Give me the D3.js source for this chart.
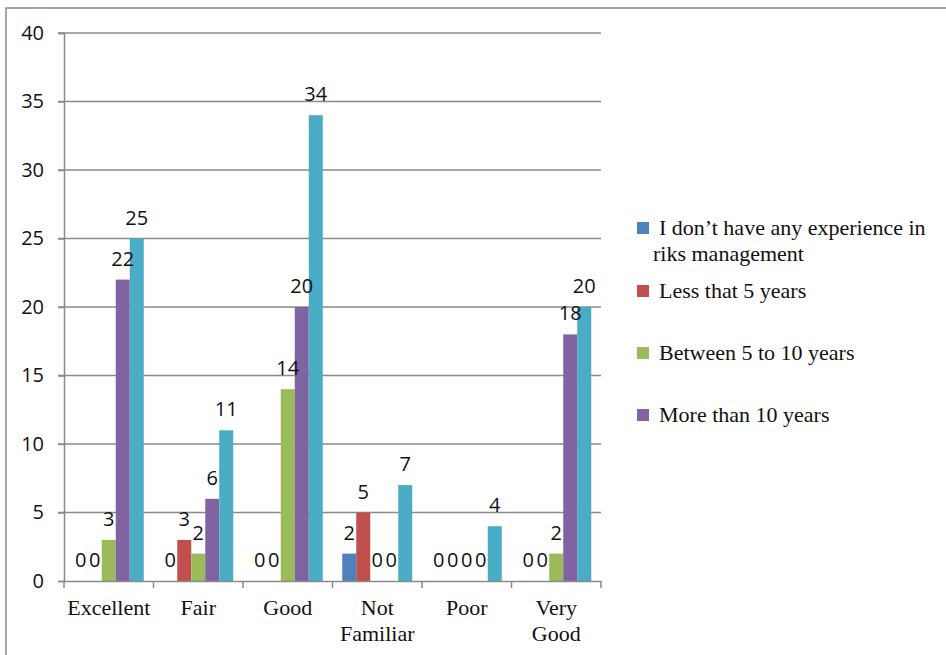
<!DOCTYPE html>
<html>
<head>
<meta charset="utf-8">
<script src="https://cdn.jsdelivr.net/npm/d3@7"></script>
<style>
  html, body { margin: 0; padding: 0; background: #fff; }
  svg { display: block; }
</style>
</head>
<body>
<svg id="chart" width="946" height="655"></svg>
<script>
// Ratings and experience groups
const categories = ["Excellent", "Fair", "Good", "Not Familiar", "Poor", "Very Good"];
const categoryLines = [["Excellent"], ["Fair"], ["Good"], ["Not", "Familiar"], ["Poor"], ["Very", "Good"]];
const seriesNames = [
  "I don\u2019t have any experience in riks management",
  "Less that 5 years",
  "Between 5 to 10 years",
  "More than 10 years",
  "Series 5"
];
const noExperience   = [0, 0, 0, 2, 0, 0];
const lessThan5      = [0, 3, 0, 5, 0, 0];
const between5and10  = [3, 2, 14, 0, 0, 2];
const moreThan10     = [22, 6, 20, 0, 0, 18];
const series5        = [25, 11, 34, 7, 4, 20];
const seriesValues = [noExperience, lessThan5, between5and10, moreThan10, series5];
const yTicks = [0, 5, 10, 15, 20, 25, 30, 35, 40];
const colors = ["#4F81BD", "#C0504D", "#9BBB59", "#8064A2", "#4BACC6"];

const sansFont = "'Open Sans', 'DejaVu Sans', sans-serif";
const serifFont = "'Liberation Serif', 'Times New Roman', serif";

const svg = d3.select("#chart");
const plot = { left: 64, right: 601, top: 33, bottom: 581 };

// Outer frame (top and left edges)
svg.append("path")
  .attr("d", "M6,655 V8 H946")
  .attr("fill", "none")
  .attr("stroke", "#8a8a8a")
  .attr("stroke-width", 1.5);

const x0 = d3.scaleBand().domain(categories).range([plot.left, plot.right]).paddingInner(0).paddingOuter(0);
const groupW = 70;
const x1 = d3.scaleBand().domain(d3.range(seriesNames.length)).range([0, groupW]).padding(0);
const y = d3.scaleLinear().domain([0, 40]).range([plot.bottom, plot.top]);

// Horizontal gridlines with outward ticks
svg.append("g").selectAll("line").data(yTicks.filter(d => d > 0)).join("line")
  .attr("x1", plot.left - 6).attr("x2", plot.right)
  .attr("y1", d => y(d)).attr("y2", d => y(d))
  .attr("stroke", "#8a8a8a").attr("stroke-width", 1.5);

// Y axis
const yAxis = svg.append("g")
  .attr("transform", `translate(${plot.left},0)`)
  .call(d3.axisLeft(y).tickValues(yTicks).tickSize(6).tickPadding(14).tickFormat(d3.format("d")));
yAxis.select(".domain").attr("stroke", "#8a8a8a").attr("stroke-width", 1.5);
yAxis.selectAll(".tick line").attr("stroke", "#8a8a8a").attr("stroke-width", 1.5);
yAxis.selectAll(".tick text")
  .attr("font-family", sansFont)
  .attr("font-size", 20).attr("fill", "#111");

// Bars
const groups = svg.append("g").selectAll("g").data(categories).join("g")
  .attr("transform", d => `translate(${x0(d) + (x0.bandwidth() - groupW) / 2},0)`);

groups.selectAll("rect")
  .data((c, i) => seriesValues.map((vals, s) => ({ s, v: vals[i] })))
  .join("rect")
  .attr("x", d => x1(d.s))
  .attr("width", x1.bandwidth())
  .attr("y", d => y(d.v))
  .attr("height", d => y(0) - y(d.v))
  .attr("fill", d => colors[d.s]);

// Value labels
groups.selectAll("text")
  .data((c, i) => seriesValues.map((vals, s) => ({ s, v: vals[i] })))
  .join("text")
  .attr("x", d => x1(d.s) + x1.bandwidth() / 2)
  .attr("y", d => y(d.v) - 14)
  .attr("text-anchor", "middle")
  .attr("font-family", sansFont)
  .attr("font-size", 20).attr("fill", "#111")
  .text(d => d.v);

// X axis
const xAxis = svg.append("g")
  .attr("transform", `translate(0,${plot.bottom})`)
  .call(d3.axisBottom(x0).tickSize(0).tickFormat(""));
xAxis.select(".domain").attr("stroke", "#8a8a8a").attr("stroke-width", 1.5);
xAxis.selectAll(".tick line").remove();
// Category boundary ticks
const bounds = categories.map(c => x0(c)).concat([plot.right]);
svg.append("g").selectAll("line").data(bounds).join("line")
  .attr("x1", d => d).attr("x2", d => d)
  .attr("y1", plot.bottom).attr("y2", plot.bottom + 7)
  .attr("stroke", "#8a8a8a").attr("stroke-width", 1.5);

// Category labels
svg.append("g").selectAll("text").data(categories).join("text")
  .attr("x", d => x0(d) + x0.bandwidth() / 2)
  .attr("y", 615)
  .attr("text-anchor", "middle")
  .attr("font-family", serifFont)
  .attr("font-size", 22).attr("fill", "#111")
  .each(function(d, i) {
    const t = d3.select(this);
    categoryLines[i].forEach((ln, k) => {
      t.append("tspan").attr("x", x0(d) + x0.bandwidth() / 2).attr("dy", k === 0 ? 0 : 26).text(ln);
    });
  });

// Legend
const legendItems = [
  { s: 0, lines: ["I don\u2019t have any experience in", "riks management"], y: 228 },
  { s: 1, lines: [seriesNames[1]], y: 291 },
  { s: 2, lines: [seriesNames[2]], y: 353 },
  { s: 3, lines: [seriesNames[3]], y: 415 }
];
const legend = svg.append("g");
legendItems.forEach(it => {
  legend.append("rect")
    .attr("x", 637).attr("y", it.y - 6).attr("width", 12).attr("height", 12)
    .attr("fill", colors[it.s]);
  const t = legend.append("text")
    .attr("y", it.y + 7)
    .attr("font-family", serifFont)
    .attr("font-size", 22).attr("fill", "#111");
  it.lines.forEach((ln, k) => {
    t.append("tspan").attr("x", k === 0 ? 659 : 653).attr("dy", k === 0 ? 0 : 26).text(ln);
  });
});
</script>
</body>
</html>
